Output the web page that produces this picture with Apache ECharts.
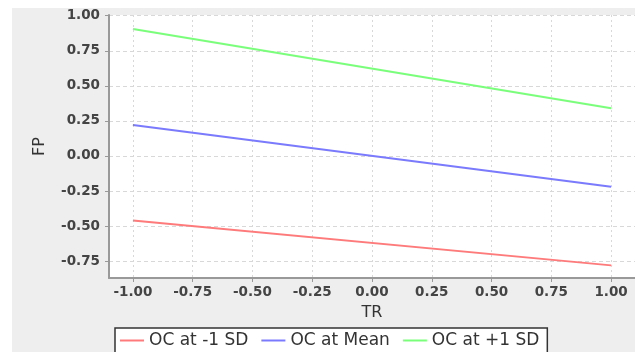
<!DOCTYPE html>
<html><head><meta charset="utf-8">
<script src="https://cdn.jsdelivr.net/npm/echarts@6/dist/echarts.min.js"></script>
<style>html,body{margin:0;padding:0;background:#fff}#c{width:635px;height:352px}</style>
</head><body><div id="c"></div>
<script>
const trValues = [-1.00, 1.00];
const seriesNames = ['OC at -1 SD', 'OC at Mean', 'OC at +1 SD'];
const lowSD = [-0.46, -0.78];
const meanSD = [0.22, -0.22];
const highSD = [0.905, 0.34];
const xTicks = [-1.00, -0.75, -0.50, -0.25, 0.00, 0.25, 0.50, 0.75, 1.00];
const yTicks = [-0.75, -0.50, -0.25, 0.00, 0.25, 0.50, 0.75, 1.00];
const colors = ['#ff7a7a', '#7a7aff', '#7aff7a'];

const chart = echarts.init(document.getElementById('c'));
const mk = (vals) => trValues.map((x, i) => [x, vals[i]]);
const font = 'DejaVu Sans';
chart.setOption({
  animation: false,
  graphic: [{type: 'rect', z: -10, shape: {x: 12, y: 8, width: 640, height: 360}, style: {fill: '#eeeeee'}}],
  grid: {left: 109, top: 15, width: 527, height: 263, show: true, backgroundColor: '#ffffff', borderWidth: 0},
  xAxis: {
    type: 'value', min: -1.1, max: 1.1,
    name: 'TR', nameLocation: 'middle', nameGap: 27,
    nameTextStyle: {fontFamily: font, fontSize: 16, color: '#333'},
    axisLine: {show: true, onZero: false, lineStyle: {color: '#999', width: 2}},
    axisTick: {show: true, length: 4, customValues: xTicks, lineStyle: {color: '#999'}},
    axisLabel: {customValues: xTicks, formatter: v => v.toFixed(2), fontFamily: font, fontWeight: 'bold', fontSize: 13.5, color: '#444', margin: 7},
    splitLine: {show: true, lineStyle: {color: '#d8d8d8', type: [2, 3]}}
  },
  yAxis: {
    type: 'value', min: -0.87, max: 1.005,
    name: 'FP', nameLocation: 'middle', nameGap: 61, nameRotate: 90,
    nameTextStyle: {fontFamily: font, fontSize: 16, color: '#333'},
    axisLine: {show: true, onZero: false, lineStyle: {color: '#999', width: 2}},
    axisTick: {show: true, length: 4, customValues: yTicks, lineStyle: {color: '#999'}},
    axisLabel: {customValues: yTicks, formatter: v => v.toFixed(2), fontFamily: font, fontWeight: 'bold', fontSize: 13.5, color: '#444', margin: 9},
    splitLine: {show: true, lineStyle: {color: '#d8d8d8', type: [4, 3]}}
  },
  legend: {
    left: 115, top: 328, orient: 'horizontal',
    backgroundColor: '#ffffff', borderColor: '#333', borderWidth: 1.5, borderRadius: 0,
    padding: [4, 8, 10, 5], itemGap: 13, itemWidth: 24, itemHeight: 2,
    icon: 'rect',
    textStyle: {fontFamily: font, fontSize: 17, color: '#333'},
    data: seriesNames
  },
  series: [
    {name: seriesNames[0], type: 'line', data: mk(lowSD), showSymbol: false, lineStyle: {width: 2, color: colors[0]}, itemStyle: {color: colors[0]}},
    {name: seriesNames[1], type: 'line', data: mk(meanSD), showSymbol: false, lineStyle: {width: 2, color: colors[1]}, itemStyle: {color: colors[1]}},
    {name: seriesNames[2], type: 'line', data: mk(highSD), showSymbol: false, lineStyle: {width: 2, color: colors[2]}, itemStyle: {color: colors[2]}}
  ]
});
</script></body></html>
